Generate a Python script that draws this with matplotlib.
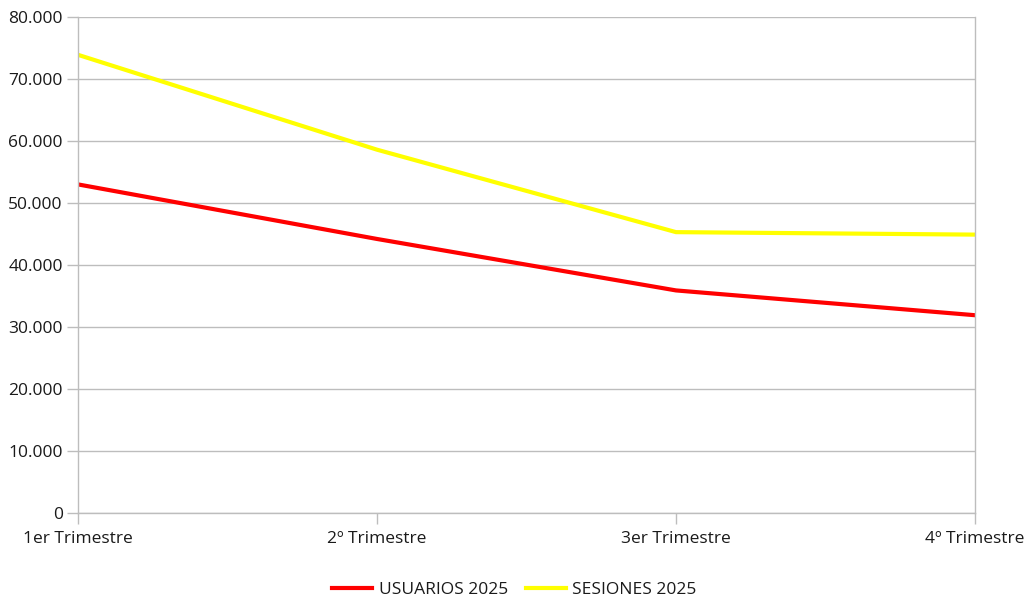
import matplotlib
matplotlib.use("Agg")
import matplotlib.pyplot as plt
from matplotlib.ticker import FuncFormatter

categories = ["1er Trimestre", "2º Trimestre", "3er Trimestre", "4º Trimestre"]
usuarios = [53000, 44200, 35900, 31900]
sesiones = [73900, 58600, 45300, 44900]
series_names = ["USUARIOS 2025", "SESIONES 2025"]

plt.rcParams['font.family'] = ['Open Sans', 'DejaVu Sans']

fig = plt.figure(figsize=(10.29, 6.02), dpi=100)
ax = fig.add_axes([78/1029, 1-513/602, (975-78)/1029, (513-17)/602])

x = list(range(len(categories)))
ax.plot(x, usuarios, color="#ff0000", lw=3, label=series_names[0], solid_joinstyle='round')
ax.plot(x, sesiones, color="#ffff00", lw=3, label=series_names[1], solid_joinstyle='round')

ax.set_xlim(0, 3)
ax.set_ylim(0, 80000)
ax.set_yticks(range(0, 80001, 10000))
ax.yaxis.set_major_formatter(FuncFormatter(lambda v, p: f"{int(v):,}".replace(",", ".")))
ax.set_xticks(x)
ax.set_xticklabels(categories)

ax.grid(axis='y', color="#bdbdbd", lw=1)
ax.set_axisbelow(True)
for s in ['left', 'bottom', 'right', 'top']:
    ax.spines[s].set_color("#bdbdbd")
    ax.spines[s].set_linewidth(1)
ax.spines['top'].set_visible(False)
ax.tick_params(axis='both', colors="#bdbdbd", length=8, width=1, labelcolor="#1a1a1a", labelsize=12.5)
ax.tick_params(axis='x', pad=5)
ax.tick_params(axis='y', pad=3)

fig.legend(loc='center', bbox_to_anchor=(0.5, 1-590/602), ncol=2, frameon=False,
           fontsize=12.5, handlelength=2.3, handletextpad=0.4, columnspacing=1.0,
           labelcolor="#1a1a1a")

fig.savefig("out.png", dpi=100, facecolor="white")
